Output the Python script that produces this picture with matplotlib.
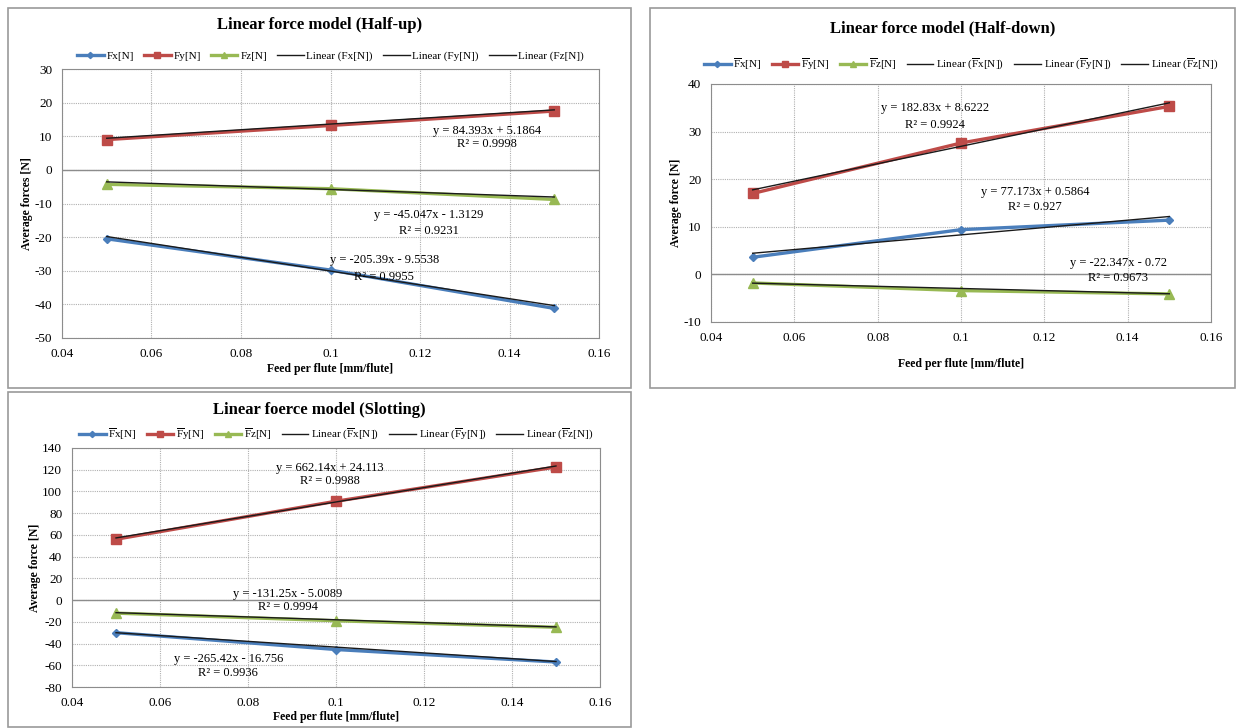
import matplotlib.pyplot as plt
import numpy as np
from matplotlib.patches import Rectangle

plt.rcParams["font.family"] = ["Liberation Serif", "DejaVu Serif"]
plt.rcParams["mathtext.fontset"] = "custom"
plt.rcParams["mathtext.rm"] = "Liberation Serif"
plt.rcParams["mathtext.it"] = "Liberation Serif:italic"
plt.rcParams["mathtext.bf"] = "Liberation Serif:bold"
plt.rcParams["axes.unicode_minus"] = False

W, H = 1236, 728

feed = [0.05, 0.1, 0.15]

# Half-up
up_fx = [-20.5, -29.8, -41.2]
up_fy = [9.0, 13.2, 17.5]
up_fz = [-4.3, -5.6, -8.8]
up_fit = [(-205.39, -9.5538), (84.393, 5.1864), (-45.047, -1.3129)]
up_r2 = ["0.9955", "0.9998", "0.9231"]

# Half-down
down_fx = [3.6, 9.4, 11.4]
down_fy = [17.0, 27.6, 35.3]
down_fz = [-1.8, -3.4, -4.1]
down_fit = [(77.173, 0.5864), (182.83, 8.6222), (-22.347, -0.72)]
down_r2 = ["0.927", "0.9924", "0.9673"]

# Slotting
slot_fx = [-30.0, -45.5, -57.0]
slot_fy = [56.0, 91.0, 122.5]
slot_fz = [-12.0, -19.0, -25.0]
slot_fit = [(-265.42, -16.756), (662.14, 24.113), (-131.25, -5.0089)]
slot_r2 = ["0.9936", "0.9988", "0.9994"]

colors = ["#4A7EBB", "#BE4B48", "#98B954"]
markers = ["D", "s", "^"]
msizes = [4.5, 6.5, 6.5]


def rect(x0, y0, x1, y1):
    return [x0 / W, 1 - y1 / H, (x1 - x0) / W, (y1 - y0) / H]


def fmt_eq(slope, intercept):
    sign = "+" if intercept >= 0 else "-"
    return f"y = {slope:g}x {sign} {abs(intercept):g}"


def panel(fig, box, frame, title, title_y, series, fits, r2s, names, ylim, yticks,
          ylabel, eq_pos, legend_y, xlabel_y):
    fig.patches.append(Rectangle((frame[0] / W, 1 - frame[3] / H),
                                 (frame[2] - frame[0]) / W, (frame[3] - frame[1]) / H,
                                 transform=fig.transFigure, fill=False,
                                 edgecolor="#9a9a9a", linewidth=1.2))
    ax = fig.add_axes(rect(*box))
    handles = []
    for vals, c, m, ms, n in zip(series, colors, markers, msizes, names):
        h, = ax.plot(feed, vals, color=c, linewidth=2.4, marker=m, markersize=ms,
                     label=n, zorder=3)
        handles.append(h)
    for (s, b), n in zip(fits, names):
        h, = ax.plot(feed, np.polyval([s, b], feed), color="#1a1a1a", linewidth=1.0,
                     label="Linear (" + n + ")", zorder=4)
        handles.append(h)
    for (s, b), r2, (ex, ey, ry) in zip(fits, r2s, eq_pos):
        ax.text(ex, ey, fmt_eq(s, b), fontsize=9, ha="center", va="center", zorder=5)
        ax.text(ex, ry, "R² = " + r2, fontsize=9, ha="center", va="center", zorder=5)
    ax.set_xlim(0.04, 0.16)
    ax.set_xticks([0.04, 0.06, 0.08, 0.1, 0.12, 0.14, 0.16])
    ax.set_xticklabels(["0.04", "0.06", "0.08", "0.1", "0.12", "0.14", "0.16"])
    ax.set_ylim(*ylim)
    ax.set_yticks(yticks)
    ax.grid(True, color="#b0b0b0", linestyle=(0, (1, 1)), linewidth=0.8)
    ax.set_axisbelow(True)
    ax.axhline(0, color="#8c8c8c", linewidth=1.0, zorder=2)
    ax.tick_params(length=0, labelsize=9.5, pad=7)
    for sp in ax.spines.values():
        sp.set_color("#8c8c8c")
    ax.set_ylabel(ylabel, fontsize=8.5, fontweight="bold", labelpad=1)
    cx = (box[0] + box[2]) / 2 / W
    fig.text(cx, 1 - xlabel_y / H, "Feed per flute [mm/flute]", fontsize=8.5,
             fontweight="bold", ha="center", va="center")
    fig.text((frame[0] + frame[2]) / 2 / W, 1 - title_y / H, title, fontsize=12,
             fontweight="bold", ha="center", va="center")
    fig.legend(handles=handles, loc="center", ncol=6, frameon=False, fontsize=8,
               bbox_to_anchor=(cx, 1 - legend_y / H), handlelength=2.4,
               columnspacing=0.9, handletextpad=0.25, markerscale=0.7)
    return ax


fig = plt.figure(figsize=(W / 100, H / 100), dpi=100)

plain = ["Fx[N]", "Fy[N]", "Fz[N]"]
bar = [r"$\overline{\mathrm{F}}$x[N]", r"$\overline{\mathrm{F}}$y[N]",
       r"$\overline{\mathrm{F}}$z[N]"]

panel(fig, (62, 69, 599, 338), (8, 8, 631, 388), "Linear force model (Half-up)", 25,
      [up_fx, up_fy, up_fz], up_fit, up_r2, plain, (-50, 30), range(-50, 31, 10),
      "Average forces [N]",
      [(0.112, -26.8, -31.9), (0.135, 11.6, 7.7), (0.122, -13.4, -18.2)], 56, 369)

panel(fig, (711, 84, 1211, 322), (650, 8, 1235, 388), "Linear force model (Half-down)", 28,
      [down_fx, down_fy, down_fz], down_fit, down_r2, bar, (-10, 40), range(-10, 41, 10),
      "Average force [N]",
      [(0.1178, 17.3, 14.2), (0.0938, 35.0, 31.4), (0.1377, 2.4, -0.75)], 64, 364)

panel(fig, (72, 448, 600, 687), (8, 392, 631, 727), "Linear foerce model (Slotting)", 410,
      [slot_fx, slot_fy, slot_fz], slot_fit, slot_r2, bar, (-80, 140), range(-80, 141, 20),
      "Average force [N]",
      [(0.0755, -54.3, -67.0), (0.0986, 121.6, 109.6), (0.089, 5.6, -6.4)], 434, 717)

fig.savefig("out.png", dpi=100)
